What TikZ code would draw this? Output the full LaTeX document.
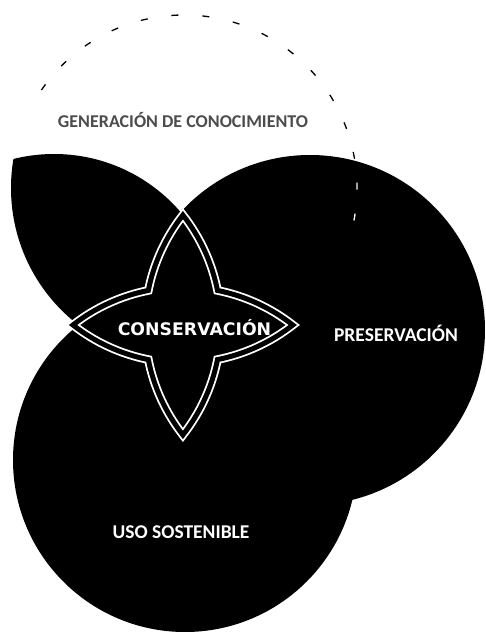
\documentclass[tikz,border=0pt]{standalone}
\usepackage{fontspec}
\newfontfamily\labelfont{Carlito}
\newfontfamily\starfont{DejaVu Sans}
\begin{document}
\begin{tikzpicture}[x=1pt,y=-1pt,
  disc/.style={fill=black},
  edgedash/.style={dash pattern=on 7pt off 24pt, line width=1.3pt},
  circlabel/.style={text=white, inner sep=0pt, font=\labelfont\bfseries\fontsize{19.5}{22}\selectfont},
  toplabel/.style={text=black!70, inner sep=0pt, font=\labelfont\bfseries\fontsize{18}{20}\selectfont},
  starlabel/.style={text=white, inner sep=0pt, font=\starfont\bfseries\fontsize{17.3}{20}\selectfont},
  starline/.style={draw=white, line width=1.8pt, double=black, double distance=5pt, fill=black}]
\useasboundingbox (0,0) rectangle (486,632);
\clip (0,0) rectangle (486,632);
\fill[white] (0,0) rectangle (486,632);
\coordinate (cT) at (184,188);
\coordinate (cL) at (54,321);
\coordinate (cR) at (310,330);
\coordinate (cB) at (185,460);
% dark circles
\fill[disc] (cR) circle[radius=175];
\fill[disc] (cB) circle[radius=172];
\begin{scope}
  \clip (cT) circle[radius=173];
  \fill[disc] (cL) circle[radius=167];
\end{scope}
% faint outline of the upper circle
\draw[edgedash, black] (cT) ++(214.5:173) arc[start angle=214.5, end angle=375, radius=173];
\begin{scope}
  \clip (cR) circle[radius=175];
  \draw[edgedash, white] (cT) ++(214.5:173) arc[start angle=214.5, end angle=375, radius=173];
\end{scope}
% star
\path[starline] (73,325)
  arc[start angle=231.9, end angle=258.8, radius=178.2]
  arc[start angle=191.2, end angle=218.1, radius=178.2]
  arc[start angle=321.9, end angle=348.8, radius=178.2]
  arc[start angle=281.2, end angle=308.1, radius=178.2]
  arc[start angle=51.9, end angle=78.8, radius=178.2]
  arc[start angle=11.2, end angle=38.1, radius=178.2]
  arc[start angle=141.9, end angle=168.8, radius=178.2]
  arc[start angle=101.2, end angle=128.1, radius=178.2]
  -- cycle;
% labels
\node[starlabel] (cons) at (194.5,328) {CONSERVACIÓN};
\node[circlabel] (pres) at (396,333) {PRESERVACIÓN};
\node[circlabel] (uso) at (181,532) {USO SOSTENIBLE};
\node[toplabel] (gen) at (183,120) {GENERACIÓN DE CONOCIMIENTO};
\end{tikzpicture}
\end{document}
